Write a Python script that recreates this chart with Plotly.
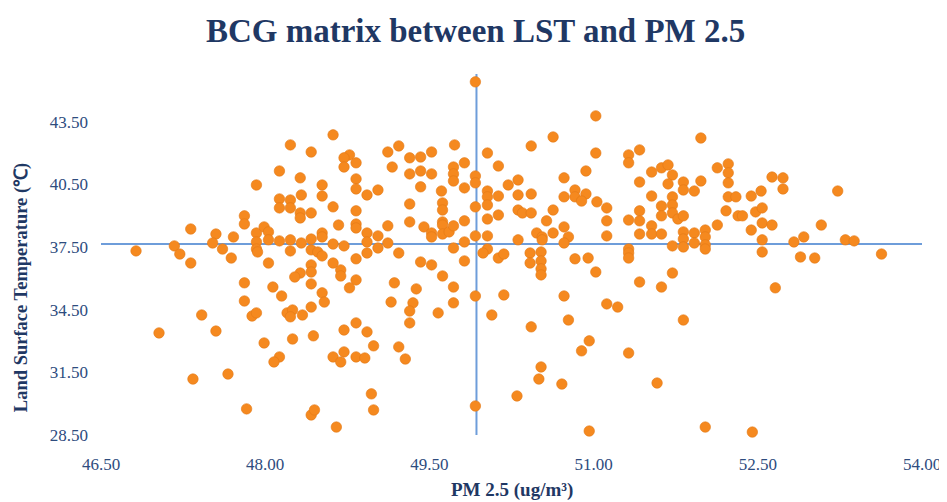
import plotly.graph_objects as go

# PM 2.5 (ug/m3) values
pm25 = [
    48.23, 48.13, 48.32, 47.92, 48.13, 48.23, 48.33, 46.82, 47.17, 47.22,
    47.32, 47.32, 47.55, 47.52, 47.61, 47.69, 47.71, 47.81, 47.81, 47.92,
    47.92, 47.92, 47.93, 47.99, 48.03, 48.03, 48.13, 48.23, 48.32, 48.32,
    48.13, 48.23, 48.23, 48.33, 48.03, 48.32, 48.27, 47.81, 48.07, 48.15,
    47.81, 47.42, 47.88, 47.92, 48.20, 48.25, 48.34, 48.23, 47.03, 47.55,
    47.99, 48.25, 48.13, 48.08, 47.34, 47.66, 47.83,
    48.42, 48.42, 48.42, 48.42, 48.42, 48.42, 48.42, 48.42, 48.44, 48.42,
    48.45, 49.92, 48.62, 49.73, 49.22, 49.12, 50.03, 49.52, 49.42, 49.32,
    48.77, 48.72, 48.72, 48.83, 49.16, 49.32, 49.42, 49.52, 49.72, 49.72,
    49.72, 49.82, 50.13, 49.92, 49.92, 48.83, 48.83, 48.52, 48.52, 48.93,
    49.03, 49.42, 49.61, 49.82, 50.03, 50.03, 50.13, 50.22, 48.62, 48.83,
    48.83, 48.83, 48.67, 48.52, 48.52, 48.62, 48.72, 48.93, 48.93, 49.03,
    49.03, 48.93, 49.12, 49.12, 49.22, 49.32, 49.32, 49.45, 49.52, 49.52,
    49.62, 49.62, 49.62, 49.62, 49.62, 49.68, 49.72, 49.82, 49.82, 49.72,
    49.92, 49.92, 50.03, 50.03, 50.13, 50.03, 50.03, 49.99, 50.13, 50.18,
    48.48, 48.52, 48.62, 48.69, 48.69, 48.83, 48.83, 48.77, 48.52, 48.54,
    49.18, 49.38, 49.15, 49.35, 49.32, 49.42, 49.52, 49.62, 49.72, 49.72,
    49.82, 49.92, 50.18, 49.58, 50.07, 49.32, 48.72, 48.83, 48.93, 48.99,
    48.72, 48.62, 48.69, 48.83, 48.91, 49.22, 49.28, 48.97, 48.99, 48.65,
    49.92,
    50.31, 50.31, 50.31, 50.31, 51.02, 50.63, 50.43, 51.98, 51.02, 51.32,
    51.32, 51.42, 51.62, 51.68, 51.53, 51.72, 50.93, 50.73, 52.13, 51.98,
    51.82, 51.42, 51.68, 51.82, 51.92, 50.43, 50.73, 50.83, 50.93, 50.83,
    51.53, 51.72, 50.89, 51.03, 51.12, 51.12, 51.12, 50.35, 50.43, 50.63,
    50.57, 50.48, 50.53, 50.53, 50.63, 50.73, 50.77, 50.73, 50.42, 50.42,
    50.52, 50.52, 50.52, 50.52, 50.83, 50.95, 51.02, 51.32, 51.42, 51.42,
    51.42, 51.32, 51.32, 51.32, 51.53, 51.53, 51.62, 51.62, 51.62, 51.72,
    51.72, 51.77, 51.82, 51.82, 51.82, 51.82, 51.72, 51.92, 51.92, 52.02,
    52.02, 52.02, 52.02, 52.13, 51.42, 51.62, 51.72, 50.73, 51.12, 51.22,
    50.77, 51.82, 50.43, 50.96, 50.89, 51.32, 50.52, 50.50, 50.71, 51.58,
    50.30, 50.96, 52.02,
    52.23, 52.23, 52.23, 52.63, 52.73, 52.73, 52.53, 53.23, 52.23, 52.30,
    52.44, 52.21, 52.32, 52.36, 52.48, 52.54, 52.54, 52.63, 52.44, 52.54,
    52.54, 52.83, 52.92, 53.08, 53.30, 53.38, 53.63, 52.89, 53.02, 52.66,
    52.45,
]

# Land surface temperature (deg C) values, same order
lst = [
    42.40, 41.15, 40.82, 40.48, 39.81, 39.76, 40.00, 37.32, 37.56, 37.17,
    38.37, 36.74, 38.13, 37.70, 37.41, 36.98, 37.99, 39.00, 38.61, 38.18,
    37.75, 37.41, 37.27, 38.47, 38.23, 37.85, 39.38, 39.38, 39.14, 38.90,
    37.80, 37.85, 37.32, 37.70, 36.74, 36.26, 36.07, 35.79, 35.59, 35.16,
    34.92, 34.25, 34.20, 34.35, 34.35, 34.49, 34.25, 34.16, 33.39, 33.48,
    32.91, 33.10, 32.24, 32.00, 31.18, 31.42, 29.75,
    42.06, 39.14, 37.89, 37.37, 36.65, 36.31, 35.74, 34.63, 33.25, 29.46,
    29.70, 45.42, 42.88, 42.40, 42.35, 42.06, 42.01, 42.06, 41.82, 41.78,
    41.92, 41.78, 41.34, 41.54, 41.34, 41.01, 41.15, 41.01, 41.34, 41.01,
    40.67, 41.54, 41.39, 40.91, 40.58, 40.77, 40.29, 40.48, 39.95, 40.00,
    40.24, 40.39, 40.19, 40.34, 40.19, 39.91, 39.95, 40.48, 39.43, 39.24,
    38.61, 38.42, 38.56, 38.18, 37.99, 37.65, 37.56, 38.18, 37.75, 38.04,
    37.46, 37.22, 38.52, 37.70, 37.22, 39.57, 38.71, 38.47, 38.18, 37.99,
    39.62, 39.28, 38.71, 38.56, 38.13, 38.23, 38.52, 38.76, 37.75, 37.46,
    39.43, 38.04, 39.52, 38.85, 39.04, 38.04, 37.41, 37.22, 36.98, 37.17,
    37.27, 37.08, 36.74, 36.41, 36.12, 36.94, 35.93, 35.55, 35.31, 34.87,
    35.79, 35.50, 34.87, 34.83, 34.44, 36.79, 36.65, 36.12, 35.59, 34.83,
    36.84, 35.16, 35.21, 34.35, 34.25, 33.87, 33.53, 33.87, 33.44, 32.77,
    32.48, 32.24, 32.00, 32.24, 32.19, 32.72, 32.14, 30.47, 29.70, 28.88,
    29.89,
    40.72, 40.00, 39.28, 37.85, 43.79, 42.78, 42.35, 42.73, 42.01, 41.92,
    41.54, 42.16, 41.30, 41.44, 41.10, 40.96, 41.15, 40.82, 41.30, 40.67,
    40.62, 40.62, 40.53, 40.24, 40.19, 40.05, 39.91, 40.24, 40.05, 39.91,
    39.95, 39.91, 39.71, 39.67, 39.38, 38.76, 38.04, 39.14, 39.14, 39.28,
    38.76, 38.18, 37.99, 37.85, 38.18, 38.47, 37.99, 37.70, 37.22, 36.74,
    37.27, 36.84, 36.46, 36.17, 36.94, 36.98, 36.31, 38.80, 39.24, 38.76,
    38.13, 37.41, 37.22, 36.98, 38.52, 38.13, 39.47, 39.00, 38.13, 39.52,
    39.14, 38.85, 39.00, 38.23, 37.89, 37.51, 37.56, 38.18, 37.70, 38.32,
    37.99, 37.61, 37.41, 38.56, 35.83, 35.59, 36.26, 35.16, 34.78, 34.63,
    34.01, 34.01, 33.68, 33.01, 32.53, 32.43, 31.76, 31.18, 30.94, 30.99,
    30.37, 28.69, 28.88,
    41.49, 41.06, 40.58, 40.86, 40.82, 40.29, 40.19, 40.19, 39.91, 39.91,
    39.95, 39.24, 39.00, 39.00, 39.19, 39.38, 38.66, 38.56, 38.32, 37.85,
    37.27, 37.75, 37.99, 38.56, 37.85, 37.80, 37.17, 37.03, 36.98, 35.55,
    28.64,
]

# Crosshair (average) values and axis ticks
pm25_mid = 49.93
lst_mid = 37.65
x_ticks = [46.5, 48.0, 49.5, 51.0, 52.5, 54.0]
y_ticks = [28.5, 31.5, 34.5, 37.5, 40.5, 43.5]
x_span = [46.5, 54.04]
y_span = [28.5, 45.8]

navy = "#1F3864"
tick_col = "#2E4C7E"
line_col = "#6E9DDA"
serif = "Liberation Serif"

fig = go.Figure()
fig.add_trace(go.Scatter(x=x_span, y=[lst_mid, lst_mid], mode="lines",
                         line=dict(color=line_col, width=2), hoverinfo="skip",
                         showlegend=False, cliponaxis=False))
fig.add_trace(go.Scatter(x=[pm25_mid, pm25_mid], y=y_span, mode="lines",
                         line=dict(color=line_col, width=2), hoverinfo="skip",
                         showlegend=False))
fig.add_trace(go.Scatter(x=pm25, y=lst, mode="markers",
                         marker=dict(size=10.5, color="#F5891F",
                                     line=dict(color="#E27816", width=0.6)),
                         showlegend=False, cliponaxis=False))

fig.update_layout(
    width=939, height=494,
    margin=dict(l=93, r=25, t=58, b=52, autoexpand=False),
    paper_bgcolor="white", plot_bgcolor="white",
    title=dict(text="<b>BCG matrix between LST and PM 2.5</b>",
               x=0.498, xanchor="center", xref="container",
               y=0.955, yanchor="middle", yref="container",
               font=dict(family=serif, size=33, color=navy)),
    xaxis=dict(range=[46.5, 54.0], tickvals=x_ticks,
               ticktext=[f"{v:.2f}" for v in x_ticks],
               showgrid=False, zeroline=False, showline=False,
               ticks="", ticklabelstandoff=2, automargin=False,
               tickfont=dict(family=serif, size=17, color=tick_col)),
    yaxis=dict(range=[27.78, 46.18], tickvals=y_ticks,
               ticktext=[f"{v:.2f}" for v in y_ticks],
               showgrid=False, zeroline=False, showline=False,
               ticks="", ticklabelstandoff=12, automargin=False,
               tickfont=dict(family=serif, size=17, color=tick_col)),
    annotations=[
        dict(text="<b>PM 2.5 (ug/m³)</b>", xref="paper", yref="paper",
             x=0.5, y=-0.104, xanchor="center", yanchor="middle",
             showarrow=False, font=dict(family=serif, size=19, color=navy)),
        dict(text="<b>Land Surface Temperature (℃)</b>", xref="paper", yref="paper",
             x=-0.096, y=0.422, xanchor="center", yanchor="middle", textangle=-90,
             showarrow=False, font=dict(family=serif, size=18.5, color=navy)),
    ],
)

fig.write_html("out.html")
